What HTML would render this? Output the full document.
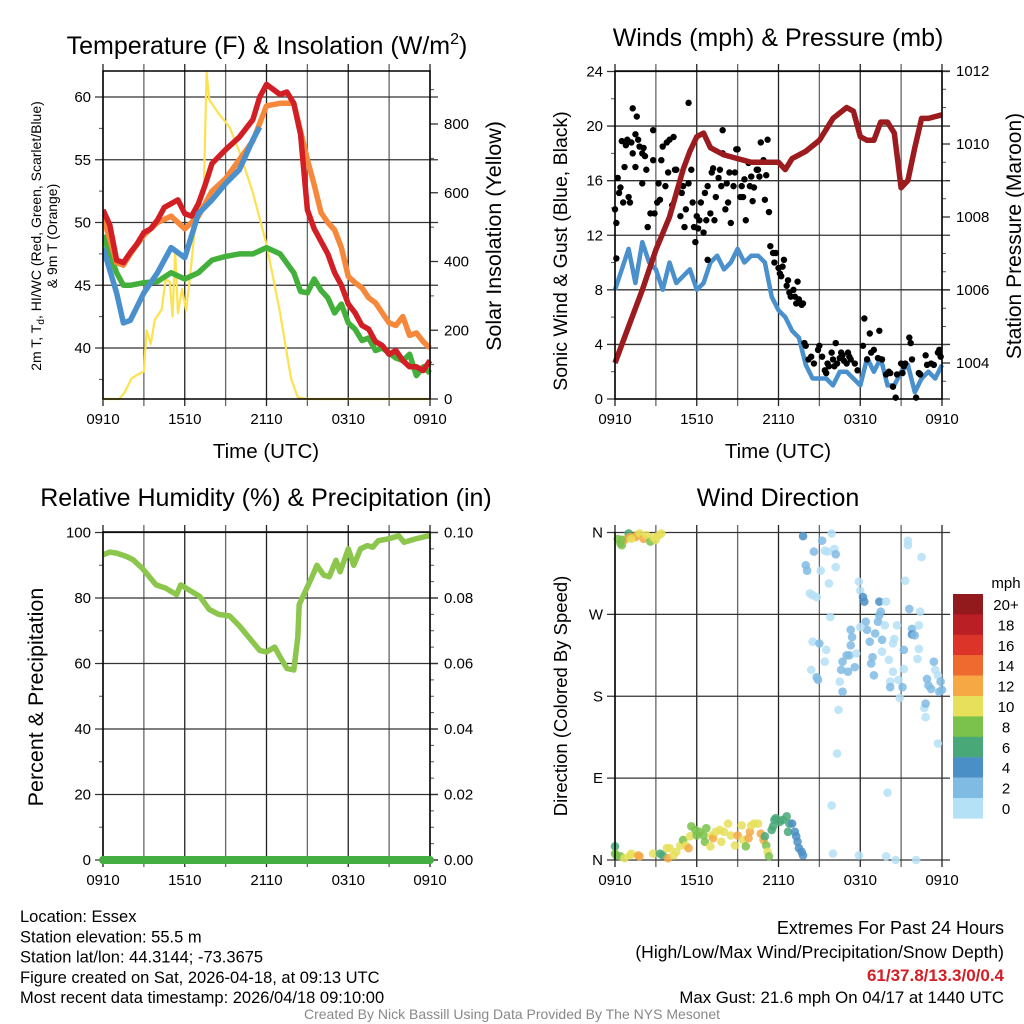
<!DOCTYPE html>
<html><head><meta charset="utf-8">
<style>
body{margin:0;background:#fff;}
svg{display:block;font-family:"Liberation Sans",Arial,sans-serif;}
</style></head>
<body>
<svg id="fig" width="1024" height="1024" viewBox="0 0 1024 1024" xmlns="http://www.w3.org/2000/svg"></svg>
<script>
// ---------- DATA ----------
const xTickLabels = ["0910","1510","2110","0310","0910"];
// Panel 1: temperature (hours since 0910 UTC)
const redH = [0,0.5,1,1.5,2,2.5,3,3.5,4,4.5,5,5.5,6,6.5,7,7.5,8,9,10,11,11.5,12,12.5,13,13.5,14,14.5,15,15.5,16,16.5,17,17.5,18,18.5,19,19.5,20,20.5,21,21.5,22,22.5,23,23.5,24];
const redT = [51,49.8,47,46.8,47.6,48.3,49.2,49.5,50.2,51.2,51.5,51.8,50.7,50.5,51.5,53,54.7,55.8,56.8,58.2,60,61,60.6,60.2,60.4,59.5,57,51,49.5,48.5,47.5,46,45,43.5,42.8,41.8,41.5,40.5,40.2,39.5,39.8,39,38.5,38.5,38.2,39];
const orangeH = [0,1,1.5,2,3,4,5,6,7,8,9,10,11,12,13,14,15,15.5,16,16.5,17,17.5,18,18.5,19,19.5,20,20.5,21,21.5,22,22.5,23,23.5,24];
const orangeT = [50.5,46.8,46.6,47.5,49,50,50.5,49.5,50.5,52.5,53.5,55,56.5,59.3,59.5,59.5,55,53,50.8,50,49.4,48,45.7,45.2,44.8,44,43.6,42.8,42,41.8,42.5,41,41.2,40.5,40];
const greenH = [0,1,1.5,2,3,4,5,6,7,8,9,10,11,12,13,14,14.5,15,15.5,16,16.5,17,17.5,18,18.5,19,19.5,20,20.5,21,21.5,22,22.5,23,23.5,24];
const greenT = [49,46,45,45,45.2,45.3,46,45.5,46,47,47.3,47.5,47.5,48,47.5,46,44.5,44.4,45.5,44.6,44,42.8,43.5,42,41.5,40.6,40.8,39.8,40,39.6,39.2,39,39.5,37.8,38.5,38];
const blueH = [0,1,1.5,2,3,4,5,6,7,8,9,10,11,11.5];
const blueT = [48,44.4,42,42.2,44.4,46,48,47.2,50.7,51.8,53.1,54.2,56.6,57.6];
const solarH = [0,1.2,1.6,2.1,2.5,3,3.2,3.5,3.8,4.3,4.6,4.9,5.1,5.3,5.5,5.8,6.1,6.4,6.7,7.1,7.4,7.6,7.8,8.5,9.3,10,11,12,13,13.8,14.3,15,24];
const solarW = [0,0,20,60,70,80,200,160,230,260,350,340,240,430,250,320,258,360,480,560,610,950,870,830,790,720,600,450,250,60,5,0,0];
// Panel 2: winds & pressure
const windH = [0,0.5,1,1.5,2,2.5,3,3.5,4,4.5,5,5.5,6,6.5,7,7.5,8,8.5,9,9.5,10,10.5,11,11.5,12,12.5,13,13.5,14,14.5,15,15.5,16,16.5,17,17.5,18,18.5,19,19.5,20,20.5,21,21.5,22,22.5,23,23.5,24];
const windS = [8,9.5,11,8.5,11.5,10,9.5,8,10,8.5,9,9.5,8,8.5,10,10.5,9.5,10,11,10,10.5,10.5,10,7.5,6.5,6,5,4.5,2.5,1.5,1.5,1.5,1,2,2,1.5,1,3,2,3,1,1,2,2.5,0.5,1.5,2,1.5,2.5];
const presH = [0,1,2,3,4,5,5.5,6,6.5,7,8,9,10,11,12,12.5,13,14,15,16,17,17.5,18,18.5,19,19.5,20,20.5,21,21.5,22,22.5,23,24];
const presP = [1004,1005,1006,1007.1,1008,1009.3,1009.8,1010.2,1010.3,1009.9,1009.7,1009.6,1009.5,1009.5,1009.5,1009.3,1009.6,1009.8,1010.1,1010.7,1011,1010.9,1010.2,1010.1,1010.1,1010.6,1010.6,1010.3,1008.8,1009,1009.9,1010.7,1010.7,1010.8];
const gustH = [0,0.1,0.1,0.2,0.3,0.4,0.5,0.6,0.7,0.8,0.9,1,1.1,1.2,1.3,1.3,1.5,1.6,1.5,1.7,1.8,2,2.1,2.2,2.3,2,2.4,2.6,2.8,2.8,2.9,3.1,3.2,3.3,3.4,3.5,3.7,3.8,3.9,4,4.2,4.3,4.4,4.5,4.6,4.8,4.9,5,5.1,5.2,5.4,5.4,5.6,5.7,5.8,5.9,6,6.1,6.2,6.3,6.5,6.6,6.7,6.8,6.8,7,7.1,7.2,7.3,7.4,7.6,7.7,7.8,7.9,7.9,8.1,8.2,8.3,8.4,8.5,8.7,8.8,8.9,9,9.2,9.3,9.4,9.5,9.6,9.8,9.9,10,10.1,10.2,10.4,10.5,10.6,10.7,10.9,11,11.1,11.2,11.3,11.4,11.6,11.7,11.8,12,12.1,12.2,12.3,12.4,12.6,12.7,12.8,12.9,13.1,13.2,13.3,13.4,13.5,13.7,13.8,13.9,14,14.2,14.4,14.6,14.9,15,15.2,15.4,15.5,15.6,15.7,15.9,16,16.1,16.2,16.3,16.5,16.6,16.7,16.8,17,17.1,17.2,17.3,17.6,17.8,18.2,18.3,18.5,18.7,18.8,19,19.3,19.4,19.6,19.9,20.1,20.2,20.4,20.6,20.7,21,21.1,21.2,21.3,21.6,21.7,21.8,22.1,22.3,22.4,22.8,22.9,23.2,23.4,23.7,23.8,23.8,23.9];
const gustV = [13.9,10.3,12.9,16.2,15.1,15.5,18.9,14.4,17,18.6,19,14.8,14.4,18.8,18,21.3,17,20.7,19.4,19,18.5,18,18.4,17.8,16.8,15.8,12.6,13.6,19.7,17.5,13.6,14.4,15.8,14.6,17.5,18.5,15.6,18.8,16.6,19,14.2,19.2,16.8,16.8,15.3,13.4,15.1,15.6,12.6,13.9,15.8,21.7,16.8,14.4,12.6,11.5,13.4,12.5,13.1,14.4,12.2,15.1,13.1,10.2,15.6,13.6,16.6,16.9,13.1,14.8,16.2,16.8,15.6,19.7,18,13.9,15.8,14.4,16.6,12.9,15.6,16.6,18.3,18.3,14.8,15.6,14.8,16.1,13.1,17.3,15.6,16.3,14.5,15.5,16.8,16.8,16.3,18.8,17.5,14.6,16.4,19,13.7,11.2,10.7,10,10.7,9.6,9.2,9,9.7,10.2,8.3,8.7,7.8,7.5,8,7.5,7,8.6,7.3,6.9,7,4.1,3.9,2.9,3.1,2.6,3.6,3.9,3.1,2.1,1.9,2.6,2.4,3.4,2.9,2.4,4.1,2.6,3,3.4,3.2,2.8,2.6,3.4,3.1,2.9,2.6,2.1,3.9,5.9,2.9,4.8,3.4,3.6,3,5,2.9,1.8,2,1.9,0.9,0.1,1.8,2.6,1.9,2.4,2.6,4.5,4.1,2.9,0.1,1.9,1.8,3.2,2.5,2.6,2.5,3.4,3.6,3.4,3.1];
// Panel 3: relative humidity
const rhH = [0,0.5,1,1.7,2.2,2.9,3.4,3.9,4.6,5.4,5.7,6.3,7.1,7.8,8.5,9.3,10,10.7,11.5,12,12.6,13,13.5,14,14.3,14.4,14.9,15.4,15.7,16.2,16.6,17.1,17.4,18,18.4,18.9,19.4,19.8,20.2,20.9,21.7,22.1,22.9,23.9,24];
const rhV = [93.2,94,93.7,92.7,91.7,89,86.5,84,83,81,84,82.5,80.5,76.5,75,74.5,71.5,68,64,63.5,65,62,58.5,58,68,78,82.5,87,90,87,86.5,91.5,88,95,90,95,96,95.5,97.5,98,99,97,98,99,99];
const precipH = [0,24];
const precipV = [0,0];
// Panel 4: wind direction (deg) colored by speed (mph)
const dirH = [0.2,0.4,0.5,0.7,1,1.1,1.5,1.6,1.8,2.1,2.3,2.6,2.8,3,3.2,3.4,0.5,1.2,
0,0,0.1,0.4,0.7,1.1,1.2,1.7,1.8,2.8,3.3,3.5,3.8,3.9,4,4.3,4.5,4.8,5,5.2,5.4,5.5,5.6,5.9,6,6.2,6.5,6.6,6.7,7,7.1,7.2,7.4,7.7,7.8,8,8.3,8.5,8.8,9,9.3,9.4,9.6,9.8,9.9,10,10.2,10.5,10.7,10.9,11,11.1,11.2,11.3,11.5,11.6,11.7,11.8,12.1,12.3,12.6,12.7,12.8,13,13.2,13.3,13.4,13.5,13.7,13.8,
13.8,14,14.1,14.3,14.5,14.6,14.8,15.1,15.2,15.4,15.6,15.9,16.1,16.2,16.2,15.7,15.8,14.5,15,15.5,15.4,14.4,14.8,14.9,16.5,16.7,16.4,16.3,15.9,16,16.6,16.7,17,17.2,17.3,17.4,17.3,17.1,17.6,17.7,17.9,18,18.2,18.3,18.4,18.5,18.7,18,18.8,18.9,19,19.1,19.3,19.4,19.4,19.5,19.6,19.6,19.8,19.9,20.1,20.2,20.2,20.4,20.5,20.4,20.7,20.8,20.9,21.1,21.2,21.2,21.3,21.5,21.5,21.6,21.8,21.8,22,22.2,22.3,22.3,22.4,22.5,22.7,22.8,22.9,23,23.2,22.8,23.4,23.5,23.7,23.8,23.9,24,23.7,17.9,20,19.9,20.6,22.1];
const dirDeg = [353,348,346,352,359,355,355,357,359,353,357,350,355,352,357,359,352,353,
15,7,5,4,2,5,7,5,4,7,7,5,13,2,13,5,9,16,22,16,13,26,37,33,27,31,27,20,35,15,27,24,31,33,20,31,40,27,16,27,38,22,15,24,31,38,40,40,29,22,26,16,9,4,33,37,44,46,42,44,48,31,40,40,31,26,20,13,9,5,
356,324,318,293,291,339,289,318,351,340,339,359,342,336,322,304,267,240,238,231,218,209,201,198,196,185,165,117,60,7,209,218,225,225,253,245,236,207,212,227,306,296,289,284,262,253,240,256,216,223,203,249,262,269,284,273,242,229,258,284,220,196,190,238,243,207,258,198,178,190,231,210,307,351,346,276,254,248,247,221,232,258,273,333,167,157,199,192,188,172,218,209,203,185,196,187,128,5,74,4,0,0];
const dirSpd = [8,8,8,12,6,12,13,12,10,12,10,8,10,10,10,10,8,10,
6,8,8,8,10,10,10,13,13,10,6,6,10,13,10,10,10,10,8,10,13,10,8,8,8,8,8,8,8,10,10,13,10,10,10,10,10,10,10,12,10,10,8,13,13,10,10,10,13,12,6,8,10,8,6,6,6,6,6,6,6,6,6,4,4,4,4,4,4,4,
4,3,3,1,1,3,1,1,3,1,1,1,1,3,1,1,1,1,3,1,1,1,3,3,1,3,1,1,1,1,3,3,3,3,3,3,3,3,3,1,1,1,4,4,3,3,3,1,3,3,3,3,3,3,4,3,3,1,1,1,1,1,3,1,1,1,1,1,1,3,3,1,1,1,1,3,3,4,3,1,1,1,1,1,1,1,3,3,3,3,3,1,1,3,3,3,1,1,1,1,1,1,1];
const legendLabels = ["20+","18","16","14","12","10","8","6","4","2","0"];
const legendColors = ["#921a1d","#bb1f26","#dc3428","#ef6a2e","#f5a843","#e6e05a","#7ac24c","#49a877","#4a8fc5","#7fbbe3","#b5e1f6"];

// ---------- helpers ----------
const NS = "http://www.w3.org/2000/svg";
const svg = document.getElementById("fig");
function el(tag, attrs, parent){
  const e = document.createElementNS(NS, tag);
  for (const k in attrs) e.setAttribute(k, attrs[k]);
  (parent||svg).appendChild(e);
  return e;
}
function txt(s, x, y, size, anchor, parent, extra){
  const t = el("text", Object.assign({x:x, y:y, "font-size":size, "text-anchor":anchor||"middle", fill:"#000"}, extra||{}), parent);
  t.textContent = s;
  return t;
}
function lin(d0,d1,r0,r1){ return v => r0 + (v-d0)*(r1-r0)/(d1-d0); }
function pathFrom(xs, ys, fx, fy){
  let d = "";
  for (let i=0;i<xs.length;i++) d += (i?"L":"M") + fx(xs[i]).toFixed(1) + "," + fy(ys[i]).toFixed(1);
  return d;
}
function speedColor(s){
  let i = Math.min(10, Math.floor(s/2));
  return legendColors[10-i];
}

function panel(name, L, R, T, B, yMajors, fyL, yMinors, rMajors, fyR, rMinors, rFmt, lFmt){
  const g = el("g", {});
  
  
  const grid = el("g", {}, g);
  
  
  for (let h=0; h<=24; h+=3){
    const x = L + h*(R-L)/24;
    el("line", {x1:x, x2:x, y1:T-7, y2:B+7, stroke: (h%6===0)?"#222":"#666", "stroke-width":1.3}, grid);
  }
  yMajors.forEach(v => {
    const y = fyL(v);
    el("line", {x1:L-8, x2:R+8, y1:y, y2:y, stroke:"#333", "stroke-width":1.3}, grid);
    const t = txt(lFmt ? lFmt(v) : String(v), L-12, y+5, 15, "end", g);
    
    
  });
  yMinors.forEach(v => { const y = fyL(v); el("line", {x1:L-4, x2:L, y1:y, y2:y, stroke:"#555", "stroke-width":1}, grid); });
  rMajors.forEach(v => {
    const y = fyR(v);
    el("line", {x1:R, x2:R+8, y1:y, y2:y, stroke:"#333", "stroke-width":1.3}, grid);
    const t = txt(rFmt(v), R+14, y+5, 15, "start", g);
    
    
  });
  rMinors.forEach(v => { const y = fyR(v); el("line", {x1:R, x2:R+4, y1:y, y2:y, stroke:"#555", "stroke-width":1}, grid); });
  xTickLabels.forEach((s,i) => {
    const t = txt(s, L + i*(R-L)/4, B+25, 15, "middle", g);
    
    
  });
  return g;
}
function frame(g, L, R, T, B){
  const f = el("rect", {x:L, y:T, width:R-L, height:B-T, fill:"none", stroke:"#000", "stroke-width":1.5}, g);
  
  
}

// ---------- Panel 1 ----------
{
  const L=103,R=430,T=71,B=399;
  const fx = lin(0,24,L,R), fy = lin(40,60,348,97), fyR = lin(0,800,399,124);
  const minors=[]; for(let v=37.5; v<62; v+=5) minors.push(v);
  const rmin=[]; for(let v=100; v<=900; v+=200) rmin.push(v);
  const g = panel("temperature-panel", L,R,T,B,[40,45,50,55,60],fy,minors,[0,200,400,600,800],fyR,rmin,v=>String(v));
  const cl = el("clipPath",{id:"c1"},g); el("rect",{x:L,y:T-2,width:R-L+2,height:B-T+4},cl);
  const lines = el("g",{"clip-path":"url(#c1)"},g);
  let p = el("path",{d:pathFrom(solarH,solarW,fx,fyR),fill:"none",stroke:"#fde14f","stroke-width":2.2,"stroke-linejoin":"round"},lines);
   
  p = el("path",{d:pathFrom(greenH,greenT,fx,fy),fill:"none",stroke:"#44b03c","stroke-width":5.5,"stroke-linejoin":"round"},lines);
   
  p = el("path",{d:pathFrom(orangeH,orangeT,fx,fy),fill:"none",stroke:"#f5883a","stroke-width":5.5,"stroke-linejoin":"round"},lines);
   
  p = el("path",{d:pathFrom(redH,redT,fx,fy),fill:"none",stroke:"#d21f26","stroke-width":5.5,"stroke-linejoin":"round"},lines);
   
  p = el("path",{d:pathFrom(blueH,blueT,fx,fy),fill:"none",stroke:"#4a90cd","stroke-width":5.5,"stroke-linejoin":"round"},lines);
   
  frame(g,L,R,T,B);
  let t = el("text",{x:267,y:54,"font-size":25,"text-anchor":"middle"},g);
  t.innerHTML = 'Temperature (F) &amp; Insolation (W/m<tspan font-size="16" dy="-10">2</tspan><tspan dy="10">)</tspan>';
   
  t = el("text",{transform:"translate(41,236) rotate(-90)","font-size":14,"text-anchor":"middle"},g);
  t.innerHTML = '2m T, T<tspan font-size="10" dy="3">d</tspan><tspan dy="-3">, HI/WC (Red, Green, Scarlet/Blue)</tspan>';
   
  t = txt("& 9m T (Orange)",0,0,14,"middle",g,{transform:"translate(57,236) rotate(-90)"});
   
  t = txt("Solar Insolation (Yellow)",0,0,21.5,"middle",g,{transform:"translate(501,236) rotate(-90)"});
   
  t = txt("Time (UTC)",266,458,20.5,"middle",g);
   
}

// ---------- Panel 2 ----------
{
  const L=615,R=942,T=71,B=399;
  const fx = lin(0,24,L,R), fy = lin(0,24,399,71.5), fyR = lin(1004,1012,363,71);
  const minors=[]; for(let v=2; v<24; v+=4) minors.push(v);
  const rmin=[]; for(let v=1003.5; v<=1012; v+=0.5) if(v%2!==0) rmin.push(v);
  const g = panel("winds-panel", L,R,T,B,[0,4,8,12,16,20,24],fy,minors,[1004,1006,1008,1010,1012],fyR,rmin,v=>String(v));
  const cl = el("clipPath",{id:"c2"},g); el("rect",{x:L-4,y:T-4,width:R-L+8,height:B-T+8},cl);
  const lines = el("g",{"clip-path":"url(#c2)"},g);
  let p = el("path",{d:pathFrom(windH,windS,fx,fy),fill:"none",stroke:"#4a90cd","stroke-width":4.5,"stroke-linejoin":"round"},lines);
   
  const gd = el("g",{},lines);
   
  for (let i=0;i<gustH.length;i++){
    const c = el("circle",{cx:fx(gustH[i]),cy:fy(gustV[i]),r:3.2,fill:"#000"},gd);
    
    
  }
  p = el("path",{d:pathFrom(presH,presP,fx,fyR),fill:"none",stroke:"#9b1b1e","stroke-width":5.5,"stroke-linejoin":"round"},lines);
   
  frame(g,L,R,T,B);
  let t = txt("Winds (mph) & Pressure (mb)",778,46,25,"middle",g);
   
  t = txt("Sonic Wind & Gust (Blue, Black)",0,0,19.5,"middle",g,{transform:"translate(567,251) rotate(-90)"});
   
  t = txt("Station Pressure (Maroon)",0,0,21,"middle",g,{transform:"translate(1021,236) rotate(-90)"});
   
  t = txt("Time (UTC)",778,458,20.5,"middle",g);
   
}

// ---------- Panel 3 ----------
{
  const L=103,R=430,T=532,B=860;
  const fx = lin(0,24,L,R), fy = lin(0,100,860,532.5), fyR = lin(0,0.1,860,532.5);
  const minors=[]; for(let v=10; v<100; v+=20) minors.push(v);
  const rmin=[]; for(let v=0.005; v<0.1; v+=0.005){ if(Math.round(v*1000)%20!==0) rmin.push(v); }
  const g = panel("humidity-panel", L,R,T,B,[0,20,40,60,80,100],fy,minors,[0,0.02,0.04,0.06,0.08,0.1],fyR,rmin,v=>v.toFixed(2));
  let p = el("path",{d:pathFrom(rhH,rhV,fx,fy),fill:"none",stroke:"#8cc64c","stroke-width":5.5,"stroke-linejoin":"round"},g);
   
  frame(g,L,R,T,B);
  p = el("path",{d:pathFrom(precipH,precipV,fx,fyR),fill:"none",stroke:"#45ae43","stroke-width":8,"stroke-linecap":"round"},g);
   
  let t = txt("Relative Humidity (%) & Precipitation (in)",266,506,25,"middle",g);
   
  t = txt("Percent & Precipitation",0,0,21.5,"middle",g,{transform:"translate(43,697) rotate(-90)"});
   
}

// ---------- Panel 4 ----------
{
  const L=615,R=942,T=532,B=860;
  const fx = lin(0,24,L,R), fy = lin(0,360,860,532.5);
  const g = panel("wind-direction-panel", L,R,T,B,[0,90,180,270,360],fy,[],[],fy,[],v=>"",v=>["N","E","S","W","N"][v/90]);
  const gd = el("g",{"fill-opacity":0.85},g);
   
  for (let i=0;i<dirH.length;i++){
    const c = el("circle",{cx:fx(dirH[i]),cy:fy(dirDeg[i]),r:4.3,fill:speedColor(dirSpd[i])},gd);
    
    
  }
  el("line",{x1:L,x2:L,y1:T,y2:B,stroke:"#000","stroke-width":1.5},g);
  let t = txt("Wind Direction",778,506,25,"middle",g);
   
  t = txt("Direction (Colored By Speed)",0,0,18.5,"middle",g,{transform:"translate(567,696) rotate(-90)"});
   
  const lg = el("g",{},g);
   
  t = txt("mph",1006,588,15,"middle",lg);
   
  legendLabels.forEach((s,i) => {
    const y = 594 + i*20.4;
    const r = el("rect",{x:953,y:y,width:30,height:20.6,fill:legendColors[i]},lg);
    
    
    const lt = txt(s,1006,y+16,15,"middle",lg);
    
    
  });
}

// ---------- footer text ----------
{
  const info = ["Location: Essex","Station elevation: 55.5 m","Station lat/lon: 44.3144; -73.3675","Figure created on Sat, 2026-04-18, at 09:13 UTC","Most recent data timestamp: 2026/04/18 09:10:00"];
  info.forEach((s,i) => {
    const t = txt(s,20,922+i*20.3,16.5,"start");
    
    
  });
  let t = txt("Extremes For Past 24 Hours",1004,934,18,"end");
   
  t = txt("(High/Low/Max Wind/Precipitation/Snow Depth)",1004,958,17.5,"end");
   
  t = txt("61/37.8/13.3/0/0.4",1004,981,17,"end",svg,{fill:"#d21f26","font-weight":"bold"});
   
  t = txt("Max Gust: 21.6 mph On 04/17 at 1440 UTC",1004,1003,16.8,"end");
   
  t = txt("Created By Nick Bassill Using Data Provided By The NYS Mesonet",512,1019,14,"middle",svg,{fill:"#888"});
   
}
</script>
</body></html>
